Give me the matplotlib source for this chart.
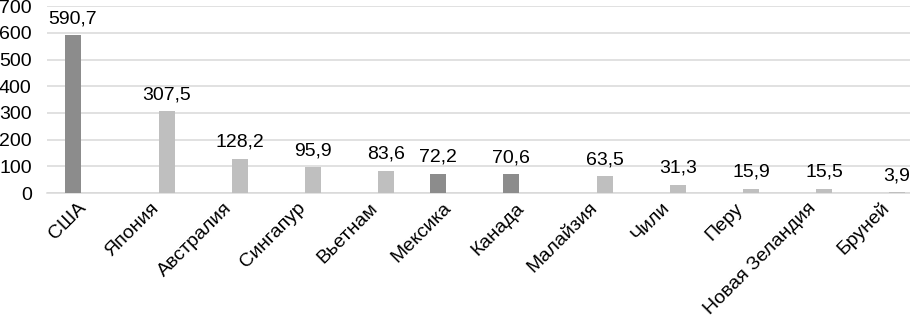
import numpy as np
import matplotlib

matplotlib.use("Agg")
import matplotlib.pyplot as plt

plt.rcParams["font.family"] = ["Liberation Sans", "DejaVu Sans"]

countries = ["США", "Япония", "Австралия", "Сингапур", "Вьетнам", "Мексика",
             "Канада", "Малайзия", "Чили", "Перу", "Новая Зеландия", "Бруней"]
# two series: North American members (dark) and the rest (light)
north_america = [590.7, np.nan, np.nan, np.nan, np.nan, 72.2,
                 70.6, np.nan, np.nan, np.nan, np.nan, np.nan]
others = [np.nan, 307.5, 128.2, 95.9, 83.6, np.nan,
          np.nan, 63.5, 31.3, 15.9, 15.5, 3.9]

DARK = "#8c8c8c"
LIGHT = "#bfbfbf"
GRID = "#d9d9d9"
FS = 14

fig = plt.figure(figsize=(9.10, 3.18), dpi=100)
ax = fig.add_axes([47 / 910, 125 / 318, 1 - 47 / 910, (193 - 6.3) / 318])

x = np.arange(len(countries))
off = 10.5 / 73
w = 16 / 73
b1 = ax.bar(x - off, north_america, width=w, color=DARK, zorder=3)
b2 = ax.bar(x + off, others, width=w, color=LIGHT, zorder=3)

for bars, vals in ((b1, north_america), (b2, others)):
    for rect, v in zip(bars, vals):
        if np.isnan(v):
            continue
        ax.annotate(f"{v:.1f}".replace(".", ","),
                    (rect.get_x() + rect.get_width() / 2, v),
                    xytext=(0, 8.6), textcoords="offset points",
                    ha="center", va="baseline", fontsize=FS, color="#000000")

ax.set_ylim(0, 700)
ax.set_yticks(range(0, 701, 100))
ax.set_xlim(-0.5, (910 - 47) / 73 - 0.5)
ax.set_xticks(x)
ax.set_xticklabels(countries, rotation=45, ha="right", va="center",
                   rotation_mode="anchor", fontsize=FS)

ax.grid(axis="y", color=GRID, linewidth=1.1, zorder=0)
for s in ("top", "right", "left"):
    ax.spines[s].set_visible(False)
ax.spines["bottom"].set_color(GRID)
ax.spines["bottom"].set_linewidth(1.1)
ax.tick_params(axis="both", length=0, labelsize=FS, colors="#000000")
ax.tick_params(axis="y", pad=11)
ax.tick_params(axis="x", pad=9)

fig.savefig("out.png", dpi=100)
